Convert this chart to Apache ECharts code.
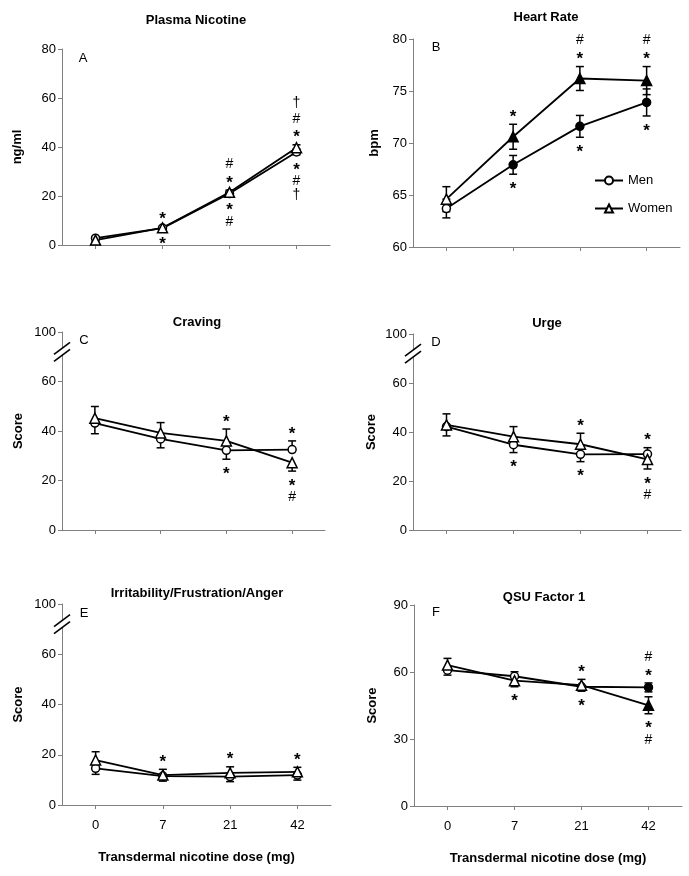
<!DOCTYPE html>
<html><head><meta charset="utf-8">
<script src="https://cdn.jsdelivr.net/npm/echarts@6/dist/echarts.min.js"></script>
<style>html,body{margin:0;padding:0;background:#fff}#c{width:689px;height:876px}</style>
</head><body><div id="c"></div>
<script>
const FONT = '"Liberation Sans", Arial, sans-serif';
const doses = ['0', '7', '21', '42'];

// A: Plasma nicotine (ng/ml)
const nicMen = [2.8, 6.9, 21.0, 38.0];
const nicMenUp = [0.5, 0.6, 0.9, 1.2];
const nicMenDn = [0.5, 0.6, 0.9, 1.2];
const nicWomen = [2.0, 7.0, 21.5, 39.7];
const nicWomenUp = [0.5, 0.6, 0.9, 1.2];
const nicWomenDn = [0.5, 0.6, 0.9, 1.2];
const nicMenFilled = [0, 0, 0, 0];
const nicWomenFilled = [0, 0, 0, 0];
const nicAbove = ['', '*', '#\n*', '†\n#\n*'];
const nicBelow = ['', '*', '*\n#', '*\n#\n†'];

// B: Heart rate (bpm)
const hrMen = [63.7, 67.9, 71.6, 73.9];
const hrMenUp = [0.9, 0.9, 1.05, 1.3];
const hrMenDn = [0.9, 0.9, 1.05, 1.3];
const hrWomen = [64.6, 70.6, 76.2, 76.0];
const hrWomenUp = [1.2, 1.2, 1.15, 1.35];
const hrWomenDn = [1.2, 1.2, 1.15, 1.35];
const hrMenFilled = [0, 1, 1, 1];
const hrWomenFilled = [0, 1, 1, 1];
const hrAbove = ['', '*', '#\n*', '#\n*'];
const hrBelow = ['', '*', '*', '*'];

// C: Craving (score)
const cravMen = [43.2, 36.8, 32.2, 32.5];
const cravMenUp = [0, 0, 0, 3.5];
const cravMenDn = [4.3, 3.6, 3.6, 0];
const cravWomen = [45.2, 39.2, 36.0, 27.2];
const cravWomenUp = [4.7, 4.2, 4.8, 0];
const cravWomenDn = [0, 0, 0, 3.4];
const cravMenFilled = [0, 0, 0, 0];
const cravWomenFilled = [0, 0, 0, 0];
const cravAbove = ['', '', '*', '*'];
const cravBelow = ['', '', '*', '*\n#'];

// D: Urge (score)
const urgeMen = [42.2, 34.8, 30.9, 31.0];
const urgeMenUp = [0, 0, 0, 2.6];
const urgeMenDn = [3.8, 3.2, 3.0, 0];
const urgeWomen = [42.9, 38.1, 35.0, 28.8];
const urgeWomenUp = [4.5, 4.1, 4.5, 0];
const urgeWomenDn = [0, 0, 0, 3.9];
const urgeMenFilled = [0, 0, 0, 0];
const urgeWomenFilled = [0, 0, 0, 0];
const urgeAbove = ['', '', '*', '*'];
const urgeBelow = ['', '*', '*', '*\n#'];

// E: Irritability/Frustration/Anger (score)
const irrMen = [14.6, 11.5, 11.3, 11.9];
const irrMenUp = [0, 0, 0, 0];
const irrMenDn = [2.4, 2.0, 2.0, 2.0];
const irrWomen = [17.9, 11.9, 12.8, 13.2];
const irrWomenUp = [3.3, 2.3, 2.4, 1.8];
const irrWomenDn = [0, 0, 0, 0];
const irrMenFilled = [0, 0, 0, 0];
const irrWomenFilled = [0, 0, 0, 0];
const irrAbove = ['', '*', '*', '*'];
const irrBelow = ['', '', '', ''];

// F: QSU Factor 1 (score)
const qsuMen = [60.8, 58.1, 53.4, 53.1];
const qsuMenUp = [0, 2.0, 0, 2.0];
const qsuMenDn = [2.2, 0, 2.0, 2.0];
const qsuWomen = [63.1, 56.1, 54.1, 45.1];
const qsuWomenUp = [3.0, 0, 2.6, 3.8];
const qsuWomenDn = [0, 2.7, 0, 3.8];
const qsuMenFilled = [0, 0, 0, 1];
const qsuWomenFilled = [0, 0, 0, 1];
const qsuAbove = ['', '', '*', '#\n*'];
const qsuBelow = ['', '*', '*', '*\n#'];

const titles = ['Plasma Nicotine', 'Heart Rate', 'Craving', 'Urge', 'Irritability/Frustration/Anger', 'QSU Factor 1'];
const letters = ['A', 'B', 'C', 'D', 'E', 'F'];
const yNames = ['ng/ml', 'bpm', 'Score', 'Score', 'Score', 'Score'];
const yMin = [0, 60, 0, 0, 0, 0];
const yMax = [80, 80, 80, 80, 80, 90];
const yInterval = [20, 5, 20, 20, 20, 30];
const hasBreak = [false, false, true, true, true, false];
const breakValue = 72;
const xTitle = 'Transdermal nicotine dose (mg)';

const panels = [
  {men: nicMen, menUp: nicMenUp, menDn: nicMenDn, women: nicWomen, womenUp: nicWomenUp, womenDn: nicWomenDn, mf: nicMenFilled, wf: nicWomenFilled, above: nicAbove, below: nicBelow},
  {men: hrMen, menUp: hrMenUp, menDn: hrMenDn, women: hrWomen, womenUp: hrWomenUp, womenDn: hrWomenDn, mf: hrMenFilled, wf: hrWomenFilled, above: hrAbove, below: hrBelow},
  {men: cravMen, menUp: cravMenUp, menDn: cravMenDn, women: cravWomen, womenUp: cravWomenUp, womenDn: cravWomenDn, mf: cravMenFilled, wf: cravWomenFilled, above: cravAbove, below: cravBelow},
  {men: urgeMen, menUp: urgeMenUp, menDn: urgeMenDn, women: urgeWomen, womenUp: urgeWomenUp, womenDn: urgeWomenDn, mf: urgeMenFilled, wf: urgeWomenFilled, above: urgeAbove, below: urgeBelow},
  {men: irrMen, menUp: irrMenUp, menDn: irrMenDn, women: irrWomen, womenUp: irrWomenUp, womenDn: irrWomenDn, mf: irrMenFilled, wf: irrWomenFilled, above: irrAbove, below: irrBelow},
  {men: qsuMen, menUp: qsuMenUp, menDn: qsuMenDn, women: qsuWomen, womenUp: qsuWomenUp, womenDn: qsuWomenDn, mf: qsuMenFilled, wf: qsuWomenFilled, above: qsuAbove, below: qsuBelow}
];

// layout of the six plotting areas
const grids = [
  {left: 62, top: 49, width: 268, height: 196},
  {left: 413, top: 39, width: 267, height: 208},
  {left: 62, top: 332, width: 263, height: 198},
  {left: 413, top: 334, width: 268, height: 196},
  {left: 62, top: 604, width: 269, height: 201},
  {left: 414, top: 605, width: 268, height: 201}
];
const titlePos = [[196, 20], [546, 17], [197, 322], [547, 323], [197, 593], [544, 597]];
const letterPos = [[83, 58], [436, 47], [84, 340], [436, 342], [84, 613], [436, 612]];
const yNameGap = [38, 32, 37, 35, 37, 35];

const grid = [], xAxis = [], yAxis = [], series = [], graphic = [];

function errSeries(i, vals, up, dn) {
  return {
    type: 'custom', xAxisIndex: i, yAxisIndex: i, z: 2, silent: true,
    data: vals.map((v, k) => [k, v, up[k], dn[k]]),
    encode: {x: 0, y: 1},
    renderItem: function (params, api) {
      const k = api.value(0), v = api.value(1), u = api.value(2), d = api.value(3);
      const c = api.coord([k, v]);
      const cap = 4;
      const ch = [];
      const st = {stroke: '#000', lineWidth: 1.5};
      if (u > 0) {
        const t = api.coord([k, v + u]);
        ch.push({type: 'line', shape: {x1: c[0], y1: c[1], x2: t[0], y2: t[1]}, style: st});
        ch.push({type: 'line', shape: {x1: t[0] - cap, y1: t[1], x2: t[0] + cap, y2: t[1]}, style: st});
      }
      if (d > 0) {
        const b = api.coord([k, v - d]);
        ch.push({type: 'line', shape: {x1: c[0], y1: c[1], x2: b[0], y2: b[1]}, style: st});
        ch.push({type: 'line', shape: {x1: b[0] - cap, y1: b[1], x2: b[0] + cap, y2: b[1]}, style: st});
      }
      return {type: 'group', children: ch};
    }
  };
}

function lineSeries(i, name, vals, filled, symbol, size) {
  return {
    type: 'line', name: name, xAxisIndex: i, yAxisIndex: i, z: 3,
    symbol: symbol, symbolSize: size, showSymbol: true,
    lineStyle: {color: '#000', width: 1.8},
    itemStyle: {color: '#fff', borderColor: '#000', borderWidth: 1.5},
    emphasis: {disabled: true},
    data: vals.map((v, k) => ({value: v, itemStyle: filled[k] ? {color: '#000'} : {color: '#fff'}}))
  };
}

// glyph styles for significance marks (font, vertical correction of glyph centre)
function glyphStyle(ch) {
  if (ch === '*') return {font: 'bold 17px ' + FONT, shift: 4};
  if (ch === '†') return {font: '14px ' + FONT, shift: -1};
  return {font: '14px ' + FONT, shift: 0};
}

// significance annotations drawn as text stacked outside the error bars
function annSeries(i, items, dir) {
  return {
    type: 'custom', xAxisIndex: i, yAxisIndex: i, z: 4, silent: true, clip: false,
    data: items, encode: {x: 0, y: 1},
    renderItem: function (params, api) {
      const c = api.coord([api.value(0), api.value(1)]);
      let lines = items[params.dataIndex][2].split('\n');
      if (dir === 'top') lines = lines.slice().reverse();
      const sgn = dir === 'top' ? -1 : 1;
      const children = lines.map((ch, n) => {
        const g = glyphStyle(ch);
        return {type: 'text', x: c[0], y: c[1] + sgn * (11 + n * 15) + g.shift,
          style: {text: ch, fill: '#000', font: g.font, align: 'center', verticalAlign: 'middle'}};
      });
      return {type: 'group', children: children};
    }
  };
}

panels.forEach((p, i) => {
  const bottomRow = i >= 4;
  grid.push(Object.assign({containLabel: false}, grids[i]));
  xAxis.push({
    gridIndex: i, type: 'category', data: doses, boundaryGap: true,
    axisLine: {show: true, lineStyle: {color: '#808080', width: 1}},
    axisTick: {show: true, alignWithLabel: true, length: 4, lineStyle: {color: '#808080'}},
    axisLabel: {show: bottomRow, color: '#000', fontSize: 13, fontFamily: FONT, margin: 14},
    splitLine: {show: false},
    name: bottomRow ? xTitle : '', nameLocation: 'middle', nameGap: 46,
    nameTextStyle: {color: '#000', fontSize: 13, fontWeight: 'bold', fontFamily: FONT}
  });
  yAxis.push({
    gridIndex: i, type: 'value', min: yMin[i], max: yMax[i], interval: yInterval[i],
    axisLine: {show: true, lineStyle: {color: '#808080', width: 1}},
    axisTick: {show: true, length: 4, lineStyle: {color: '#808080'}},
    axisLabel: {color: '#000', fontSize: 13, fontFamily: FONT, margin: 6,
      formatter: hasBreak[i] ? (v => v === 80 ? '100' : String(v)) : (v => String(v))},
    splitLine: {show: false},
    name: yNames[i], nameLocation: 'middle', nameGap: yNameGap[i],
    nameTextStyle: {color: '#000', fontSize: 13, fontWeight: 'bold', fontFamily: FONT}
  });

  series.push(errSeries(i, p.men, p.menUp, p.menDn));
  series.push(errSeries(i, p.women, p.womenUp, p.womenDn));
  series.push(lineSeries(i, 'Men', p.men, p.mf, 'circle', 8));
  series.push(lineSeries(i, 'Women', p.women, p.wf, 'triangle', 10));

  const aboveData = [], belowData = [];
  doses.forEach((d, k) => {
    if (p.above[k]) aboveData.push([k, Math.max(p.men[k] + p.menUp[k], p.women[k] + p.womenUp[k]), p.above[k]]);
    if (p.below[k]) belowData.push([k, Math.min(p.men[k] - p.menDn[k], p.women[k] - p.womenDn[k]), p.below[k]]);
  });
  if (aboveData.length) series.push(annSeries(i, aboveData, 'top'));
  if (belowData.length) series.push(annSeries(i, belowData, 'bottom'));

  if (hasBreak[i]) {
    series.push({
      type: 'custom', xAxisIndex: i, yAxisIndex: i, z: 5, silent: true, clip: false,
      data: [[0, breakValue]], encode: {x: 0, y: 1},
      renderItem: function (params, api) {
        const x = params.coordSys.x;
        const y = api.coord([0, api.value(1)])[1];
        const dx = 8, dy = 6, g = 3.5;
        const st = {stroke: '#000', lineWidth: 1.6};
        return {type: 'group', children: [
          {type: 'polygon', shape: {points: [[x - dx, y + dy - g], [x + dx, y - dy - g], [x + dx, y - dy + g], [x - dx, y + dy + g]]}, style: {fill: '#fff'}},
          {type: 'line', shape: {x1: x - dx, y1: y + dy - g, x2: x + dx, y2: y - dy - g}, style: st},
          {type: 'line', shape: {x1: x - dx, y1: y + dy + g, x2: x + dx, y2: y - dy + g}, style: st}
        ]};
      }
    });
  }

  graphic.push({type: 'text', x: titlePos[i][0], y: titlePos[i][1], silent: true,
    style: {text: titles[i], fill: '#000', font: 'bold 13px ' + FONT, align: 'center', verticalAlign: 'middle'}});
  graphic.push({type: 'text', x: letterPos[i][0], y: letterPos[i][1], silent: true,
    style: {text: letters[i], fill: '#000', font: '13px ' + FONT, align: 'center', verticalAlign: 'middle'}});
});

const chart = echarts.init(document.getElementById('c'), null, {renderer: 'canvas'});
chart.setOption({
  backgroundColor: '#fff',
  animation: false,
  grid: grid, xAxis: xAxis, yAxis: yAxis, series: series, graphic: graphic,
  legend: {
    data: ['Men', 'Women'], orient: 'vertical', left: 589, top: 169,
    itemWidth: 28, itemHeight: 10, itemGap: 15, selectedMode: false,
    textStyle: {color: '#000', fontSize: 13, fontFamily: FONT}
  }
});
</script>
</body></html>
